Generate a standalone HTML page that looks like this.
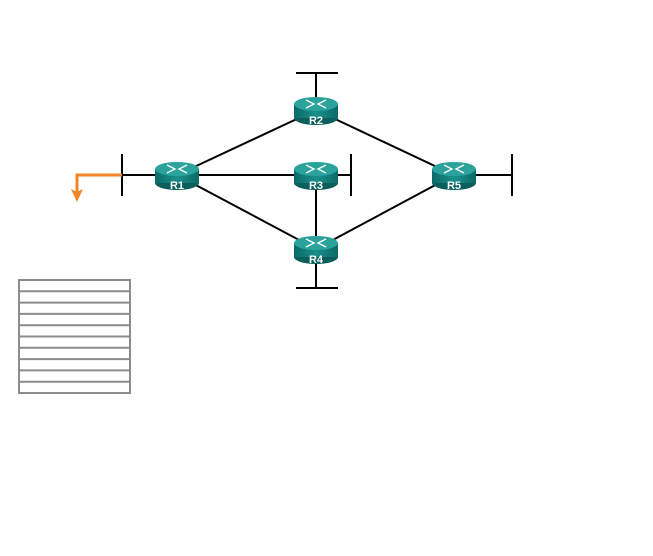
<!DOCTYPE html>
<html><head><style>html,body{margin:0;padding:0;background:#fff;width:653px;height:556px;overflow:hidden}</style></head>
<body>
<svg width="653" height="556" viewBox="0 0 653 556" xmlns="http://www.w3.org/2000/svg">
<defs>
<linearGradient id="g" x1="0" x2="1" y1="0" y2="0">
<stop offset="0" stop-color="#0b6a67"/><stop offset="0.5" stop-color="#1a8f8a"/><stop offset="1" stop-color="#0b6a67"/>
</linearGradient>
<g id="rt">
<ellipse cx="0" cy="8" rx="22" ry="7" fill="#0a5f5c"/>
<rect x="-22" y="-6" width="44" height="14" fill="url(#g)"/>
<ellipse cx="0" cy="-6" rx="22" ry="7" fill="#2ba39c"/>
<g stroke="#fff" stroke-width="1.3" fill="none">
<path d="M-10,-10 L-2,-6 L-10,-2 M10,-10 L2,-6 L10,-2"/>
</g>
</g>
</defs>
<g stroke="#000" stroke-width="2" fill="none">
<line x1="177" y1="175" x2="316" y2="110"/>
<line x1="177" y1="175" x2="316" y2="175"/>
<line x1="177" y1="175" x2="316" y2="249"/>
<line x1="316" y1="110" x2="454" y2="175"/>
<line x1="316" y1="249" x2="454" y2="175"/>
<line x1="316" y1="175" x2="316" y2="249"/>
<line x1="316" y1="110" x2="316" y2="73"/>
<line x1="296" y1="73" x2="338" y2="73"/>
<line x1="316" y1="249" x2="316" y2="288"/>
<line x1="296" y1="288" x2="338" y2="288"/>
<line x1="316" y1="175" x2="351" y2="175"/>
<line x1="351" y1="154" x2="351" y2="196"/>
<line x1="454" y1="175" x2="512" y2="175"/>
<line x1="512" y1="154" x2="512" y2="196"/>
<line x1="177" y1="175" x2="122" y2="175"/>
<line x1="122" y1="154" x2="122" y2="196"/>
</g>
<path d="M122,175 L77,175 L77,192" stroke="#f0862a" stroke-width="3" fill="none"/>
<path d="M71,189 L77,202 L83,189 L77,192 Z" fill="#f0862a"/>
<use href="#rt" x="177" y="175"/>
<use href="#rt" x="316" y="110"/>
<use href="#rt" x="316" y="175"/>
<use href="#rt" x="316" y="249"/>
<use href="#rt" x="454" y="175"/>
<g font-family="Liberation Sans, sans-serif" font-weight="bold" font-size="11" fill="#fff" text-anchor="middle">
<text x="177" y="189">R1</text>
<text x="316" y="124">R2</text>
<text x="316" y="189">R3</text>
<text x="316" y="263">R4</text>
<text x="454" y="189">R5</text>
</g>
<g stroke="#8c8c8c" stroke-width="2" fill="none">
<rect x="19" y="280" width="111" height="113"/>
<path d="M19,291.3H130M19,302.6H130M19,313.9H130M19,325.2H130M19,336.5H130M19,347.8H130M19,359.1H130M19,370.4H130M19,381.7H130"/>
</g>
</svg>
</body></html>
